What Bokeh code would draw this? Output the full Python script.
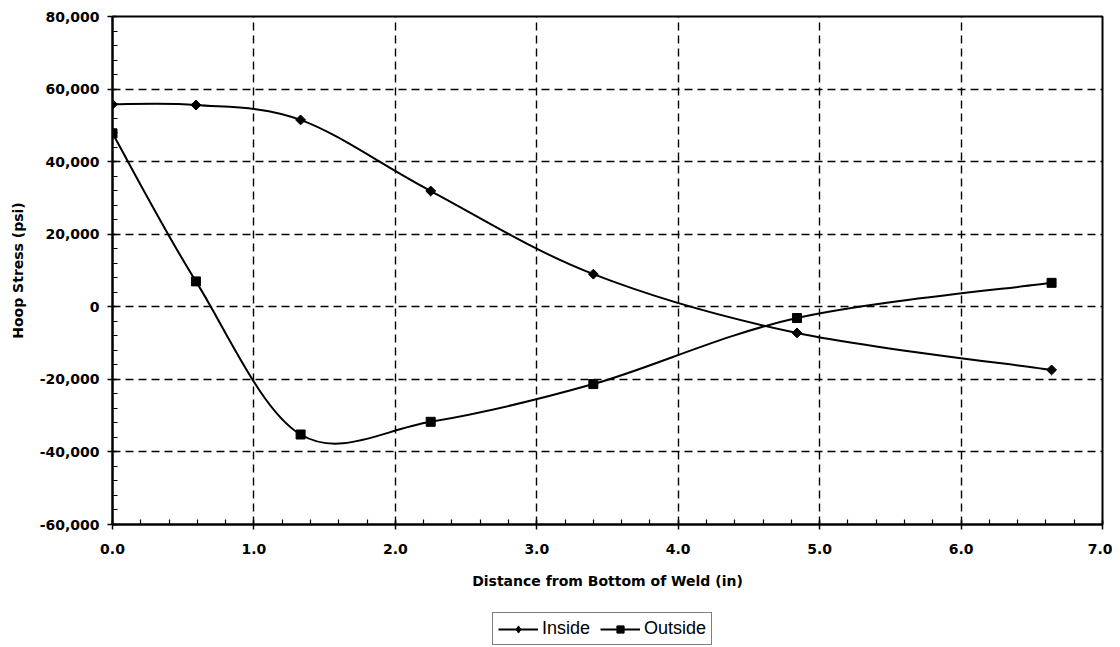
import math
from bokeh.plotting import figure
from bokeh.layouts import column
from bokeh.models import (Legend, LegendItem, SingleIntervalTicker, NumeralTickFormatter,
                          Range1d, ColumnDataSource)
from bokeh.embed import file_html
from bokeh.resources import INLINE

# ---- data ----
x_pos = [0.0, 0.59, 1.33, 2.25, 3.40, 4.84, 6.64]
inside = [55800, 55600, 51500, 31900, 9000, -7200, -17400]
outside = [47800, 7000, -35200, -31700, -21300, -3100, 6600]
series_names = ["Inside", "Outside"]
x_title = "Distance from Bottom of Weld (in)"
y_title = "Hoop Stress (psi)"

TICK_FONT = "DejaVu Sans"


def bezier_source(xs, ys):
    # Excel-style smoothed line: cubic Bezier segments through the data points
    n = len(xs)
    d = dict(x0=[], y0=[], x1=[], y1=[], cx0=[], cy0=[], cx1=[], cy1=[])
    for i in range(n - 1):
        p0 = (xs[max(i - 1, 0)], ys[max(i - 1, 0)])
        p1 = (xs[i], ys[i])
        p2 = (xs[i + 1], ys[i + 1])
        p3 = (xs[min(i + 2, n - 1)], ys[min(i + 2, n - 1)])
        d["x0"].append(p1[0]); d["y0"].append(p1[1])
        d["x1"].append(p2[0]); d["y1"].append(p2[1])
        d["cx0"].append(p1[0] + (p2[0] - p0[0]) / 6.0)
        d["cy0"].append(p1[1] + (p2[1] - p0[1]) / 6.0)
        d["cx1"].append(p2[0] - (p3[0] - p1[0]) / 6.0)
        d["cy1"].append(p2[1] - (p3[1] - p1[1]) / 6.0)
    return ColumnDataSource(d)


p = figure(width=1112, height=600, output_backend="svg", toolbar_location=None,
           x_range=Range1d(0, 7), y_range=Range1d(-60000, 80000),
           min_border_left=112, min_border_right=10, min_border_top=16, min_border_bottom=76)

p.background_fill_color = "white"
p.border_fill_color = "white"
p.outline_line_color = "black"
p.outline_line_width = 2

# grid
for g in (p.xgrid, p.ygrid):
    g.grid_line_color = "black"
    g.grid_line_dash = "8 5"
    g.grid_line_width = 1.4

# axes
p.xaxis.ticker = SingleIntervalTicker(interval=1, num_minor_ticks=5)
p.yaxis.ticker = SingleIntervalTicker(interval=20000, num_minor_ticks=5)
p.xaxis.formatter = NumeralTickFormatter(format="0.0")
p.yaxis.formatter = NumeralTickFormatter(format="0,0")
for ax in (p.xaxis, p.yaxis):
    ax.axis_line_color = "black"
    ax.axis_line_width = 2
    ax.major_tick_line_color = "black"
    ax.major_tick_line_width = 1.5
    ax.major_tick_in = 4
    ax.major_tick_out = 5
    ax.minor_tick_line_color = "black"
    ax.minor_tick_line_width = 1.2
    ax.minor_tick_in = 5
    ax.minor_tick_out = 0
    ax.major_label_text_font = TICK_FONT
    ax.major_label_text_font_style = "bold"
    ax.major_label_text_font_size = "14px"
    ax.major_label_text_color = "black"
    ax.axis_label_text_font = TICK_FONT
    ax.axis_label_text_font_style = "bold"
    ax.axis_label_text_font_size = "14px"
    ax.axis_label_text_color = "black"
p.xaxis.axis_label = x_title
p.yaxis.axis_label = y_title
p.xaxis.major_label_standoff = 14
p.yaxis.major_label_standoff = 8
p.xaxis.axis_label_standoff = 16
p.yaxis.axis_label_standoff = 11

# series (smoothed lines + markers)
p.bezier(x0="x0", y0="y0", x1="x1", y1="y1", cx0="cx0", cy0="cy0", cx1="cx1", cy1="cy1",
         source=bezier_source(x_pos, inside), line_color="black", line_width=2)
p.bezier(x0="x0", y0="y0", x1="x1", y1="y1", cx0="cx0", cy0="cy0", cx1="cx1", cy1="cy1",
         source=bezier_source(x_pos, outside), line_color="black", line_width=2)
p.scatter(x_pos, inside, marker="square", angle=math.pi / 4, size=7,
          fill_color="black", line_color="black")
p.scatter(x_pos, outside, marker="square", size=9, fill_color="black", line_color="black")

# ---- legend strip below the chart ----
lg = figure(width=1112, height=47, output_backend="svg", toolbar_location=None,
            x_range=Range1d(0, 7), y_range=Range1d(-60000, 80000),
            x_axis_location=None, y_axis_location=None,
            min_border_left=0, min_border_right=0, min_border_top=0, min_border_bottom=0)
lg.outline_line_color = None
lg.xgrid.visible = False
lg.ygrid.visible = False
l_in = lg.line(x_pos, inside, line_color="black", line_width=2, visible=False)
m_in = lg.scatter(x_pos, inside, marker="diamond", size=10,
                  fill_color="black", line_color="black", visible=False)
l_out = lg.line(x_pos, outside, line_color="black", line_width=2, visible=False)
m_out = lg.scatter(x_pos, outside, marker="square", size=9,
                   fill_color="black", line_color="black", visible=False)

legend = Legend(items=[LegendItem(label=series_names[0], renderers=[l_in, m_in]),
                       LegendItem(label=series_names[1], renderers=[l_out, m_out])],
                orientation="horizontal", location=(380, 2))
legend.label_text_font = "Liberation Sans"
legend.label_text_font_size = "18px"
legend.label_text_color = "black"
legend.border_line_color = "black"
legend.border_line_width = 1.5
legend.background_fill_color = "white"
legend.inactive_fill_alpha = 0
legend.padding = 5
legend.spacing = 10
legend.margin = 0
legend.glyph_width = 40
legend.glyph_height = 18
legend.label_standoff = 4
legend.label_height = 18
lg.add_layout(legend, "center")

layout = column(p, lg, spacing=0)
open("out.html", "w").write(file_html(layout, INLINE))
